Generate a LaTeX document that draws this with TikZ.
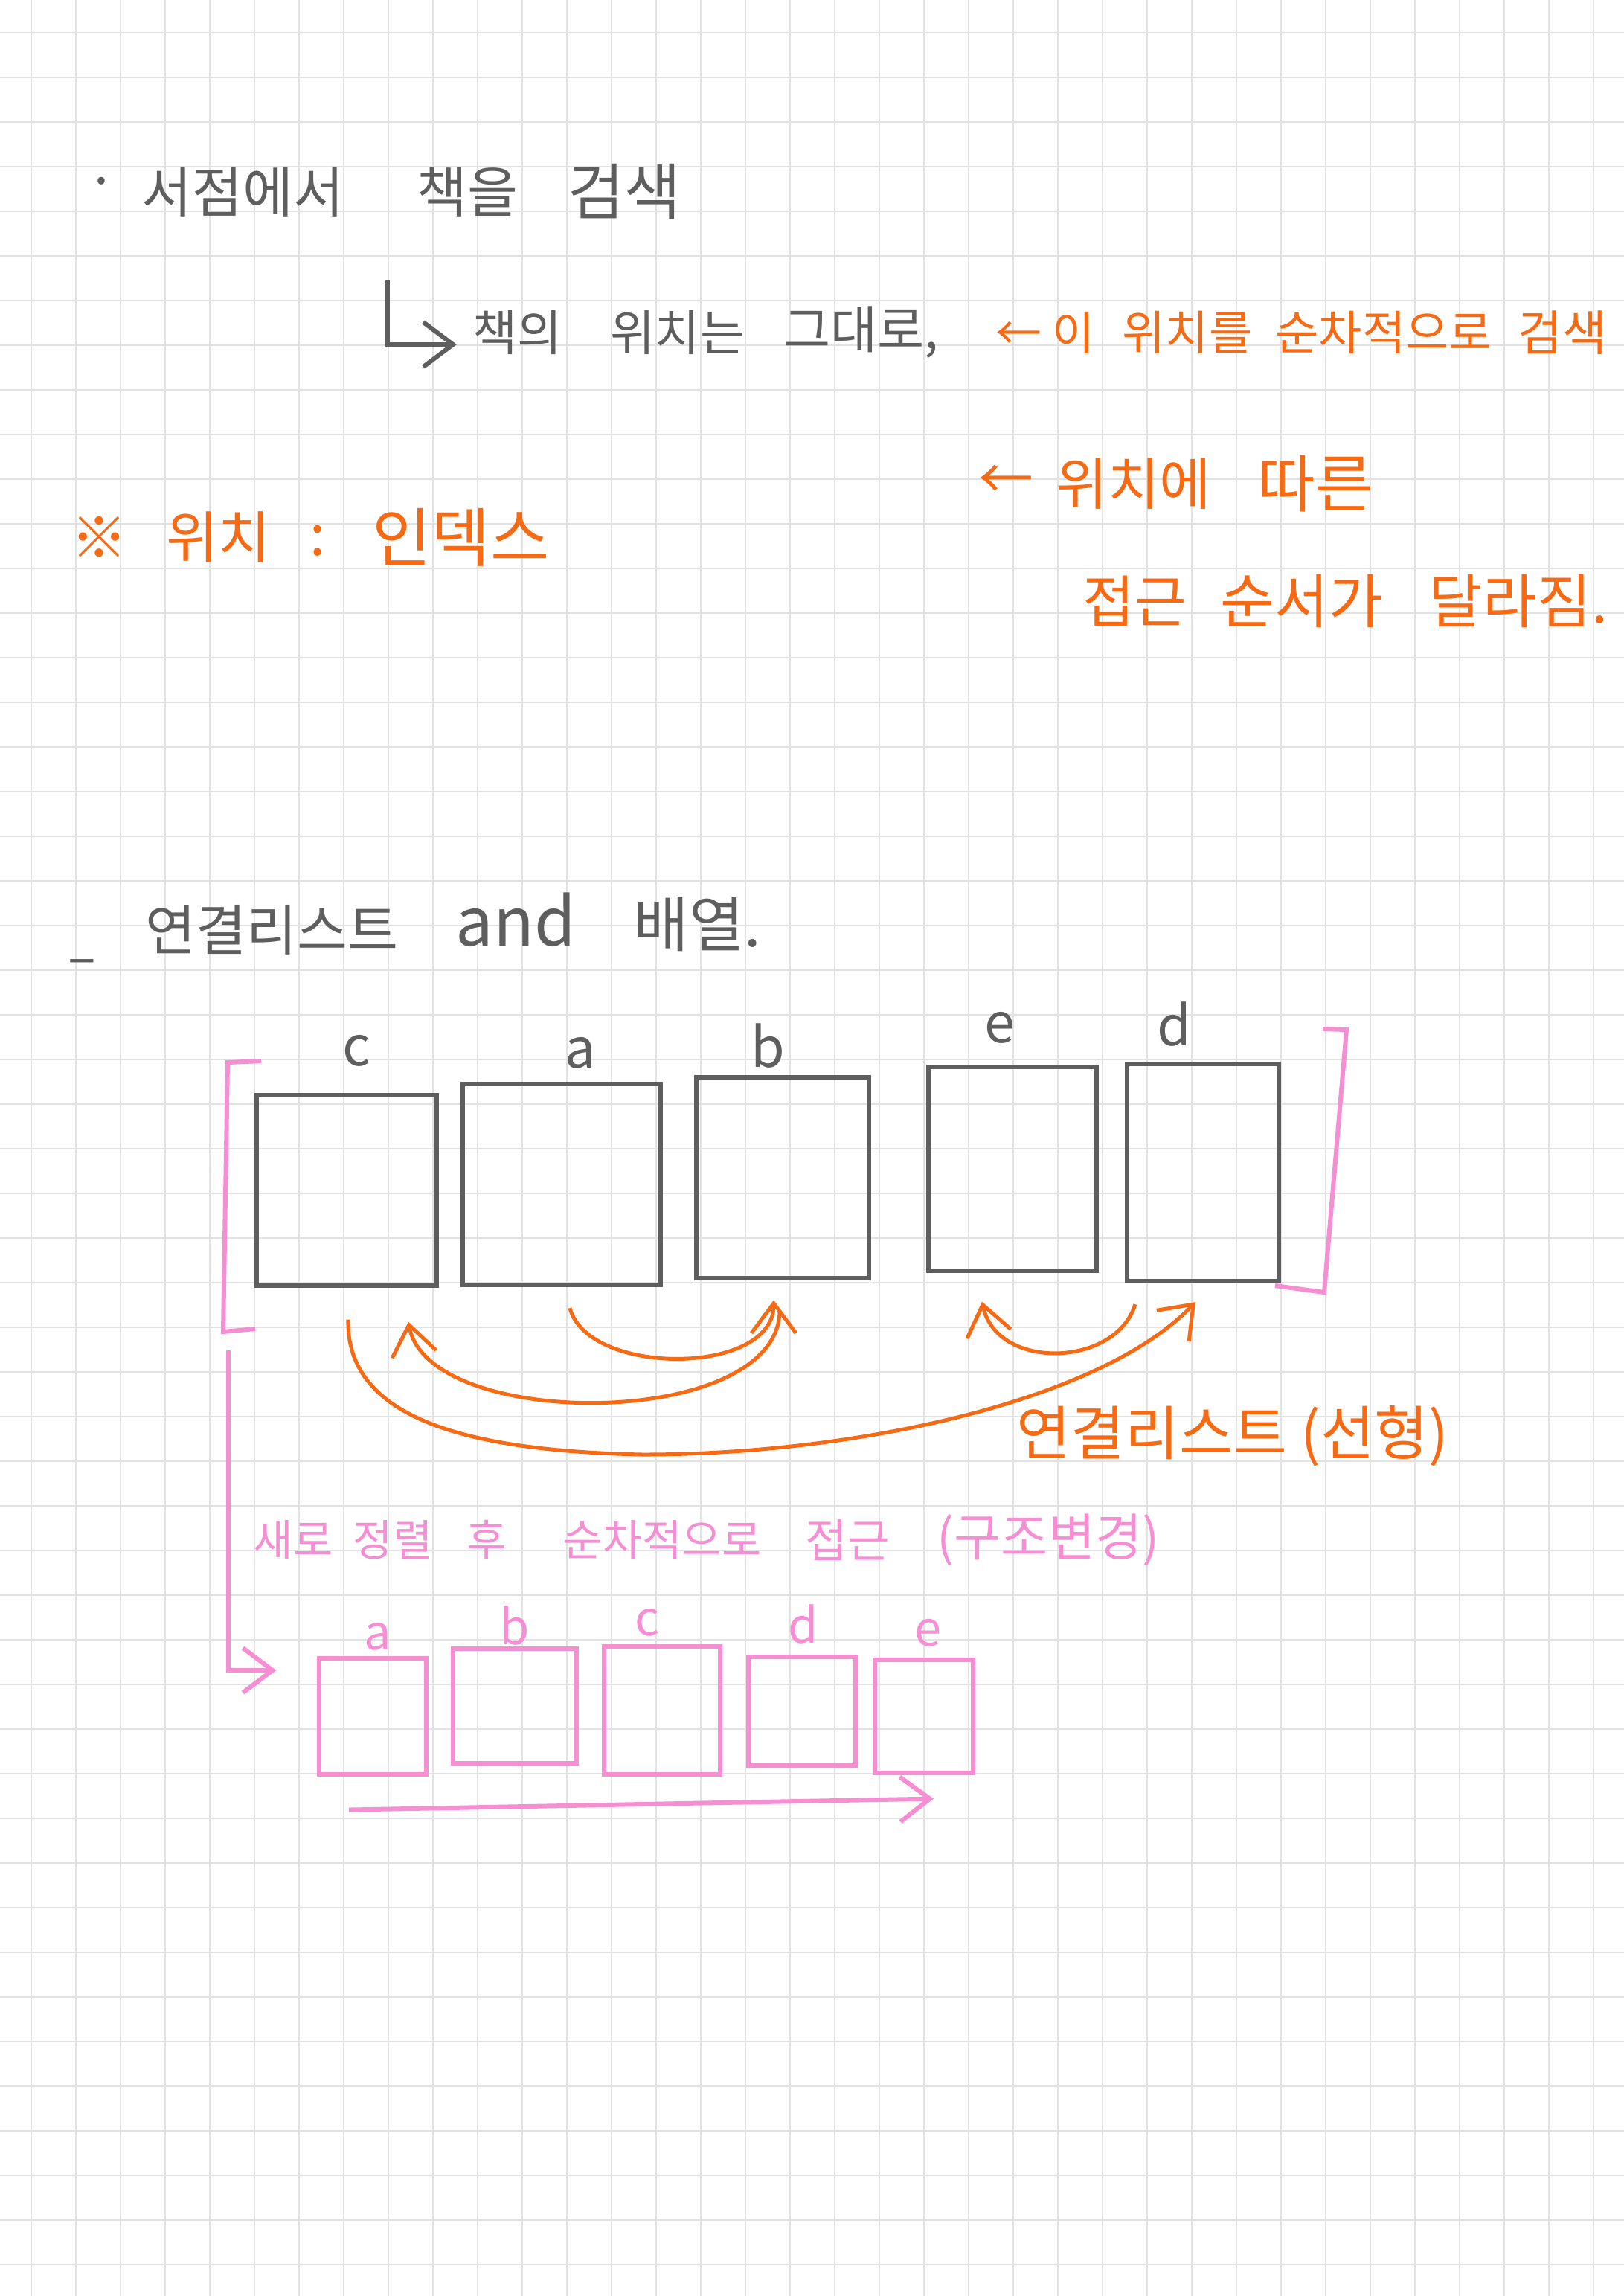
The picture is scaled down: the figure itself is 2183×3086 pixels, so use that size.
\documentclass[tikz,border=0pt]{standalone}
\usepackage{fontspec}
\setmainfont{Noto Sans CJK KR}
\usepackage{tikz}
\usetikzlibrary{positioning, arrows.meta}
\definecolor{pencil}{RGB}{94,94,94}
\definecolor{marker}{RGB}{246,106,20}
\definecolor{pinkpen}{RGB}{246,142,212}
\definecolor{gridgray}{RGB}{226,226,226}
\newcommand{\penfont}[1]{\fontsize{#1}{#1}\selectfont}
\tikzset{
x=0.01cm, y=-0.01cm, % one unit is one pixel of the page, y runs downwards
>={Straight Barb[length=4mm,width=6mm]}, % open hand-drawn arrow heads
line cap=round, line join=round,
gridline/.style={gridgray, line width=0.25mm}, % the squares of the paper
pen/.style={inner sep=0pt, anchor=west, text=pencil, font=\penfont{#1}}, % gray handwriting
ora/.style={inner sep=0pt, anchor=west, text=marker, font=\penfont{#1}}, % orange notes
pnk/.style={inner sep=0pt, anchor=west, text=pinkpen, font=\penfont{#1}}, % pink notes
cell/.style={draw=pencil, line width=0.6mm, inner sep=0pt}, % one slot of the list
pcell/.style={draw=pinkpen, line width=0.6mm, inner sep=0pt}, % one slot after sorting
penline/.style={pencil, line width=0.6mm},
link/.style={->, marker, line width=0.5mm},
pinkline/.style={pinkpen, line width=0.6mm},
plink/.style={->, pinkpen, line width=0.6mm},
}
\begin{document}
\begin{tikzpicture}
    \useasboundingbox (0,0) rectangle (2183,3086);
    \fill[white] (0,0) rectangle (2183,3086);
    \foreach \gx in {42,102,...,2182} \draw[gridline] (\gx,0) -- (\gx,3086);
    \foreach \gy in {44,104,...,3086} \draw[gridline] (0,\gy) -- (2183,\gy);

    % bookstore note
    \node[pen=20.5pt, anchor=center] (dot) at (137,254) {·};
    \node[pen=21pt] (w1) at (190,258) {서점에서};
    \node[pen=21pt] (w2) at (560,258) {책을};
    \node[pen=23.5pt] (w3) at (763,258) {검색};

    \node[pen=18.6pt] (w4) at (635,447) {책의};
    \node[pen=18.6pt] (w5) at (820,447) {위치는};
    \node[pen=19.5pt] (w6) at (1053,447) {그대로,};
    \coordinate (hook) at (521,377);
    \draw[penline, ->] (hook) |- ([shift={(-21,16)}]w4.west);

    \node[ora=17.6pt] (o1) at (1338,447) {← 이};
    \node[ora=18pt] (o2) at (1508,447) {위치를};
    \node[ora=18pt] (o3) at (1714,447) {순차적으로};
    \node[ora=18.5pt] (o4) at (2040,447) {검색};

    \node[ora=21.6pt] (o5) at (95,722) {※};
    \node[ora=21.6pt] (o6) at (223,722) {위치};
    \node[ora=21.6pt, anchor=center] (o7) at (427,727) {:};
    \node[ora=24.5pt] (o8) at (500,722) {인덱스};

    \node[ora=21pt] (o9) at (1315,648) {←};
    \node[ora=21.5pt] (o10) at (1419,650) {위치에};
    \node[ora=24pt] (o11) at (1690,650) {따른};
    \node[ora=21.5pt] (o12) at (1455,808) {접근};
    \node[ora=22.5pt] (o13) at (1640,808) {순서가};
    \node[ora=22.5pt] (o14) at (1920,808) {달라짐.};

    % linked list and array
    \node[pen=20pt, anchor=center] (dash) at (110,1300) {–};
    \node[pen=21pt] (w7) at (195,1250) {연결리스트};
    \node[pen=25.6pt] (w8) at (612,1236) {and};
    \node[pen=23pt] (w9) at (851,1242) {배열.};

    \node[cell, minimum width=24.2mm, minimum height=25.5mm] (bc) at (466,1600) {};
    \node[cell, minimum width=26.6mm, minimum height=27mm] (ba) at (755,1592) {};
    \node[cell, minimum width=23.2mm, minimum height=26.9mm] (bb) at (1052,1583) {};
    \node[cell, minimum width=22.5mm, minimum height=27.3mm] (be) at (1361,1571) {};
    \node[cell, minimum width=20.4mm, minimum height=29.2mm] (bd) at (1617,1576) {};

    \node[pen=21pt, above=3.5mm of bc, xshift=1.3mm] (lc) {c};
    \node[pen=21pt, above=1.7mm of ba, xshift=2.5mm] (la) {a};
    \node[pen=21pt, above=0.9mm of bb, xshift=-2mm] (lb) {b};
    \node[pen=21pt, above=2.8mm of be, xshift=-1.7mm] (le) {e};
    \node[pen=21pt, above=2mm of bd, xshift=-3.9mm] (ld) {d};

    \draw[pinkline] (351,1426) -- (306,1428) -- (300,1790) -- (343,1786);
    \draw[pinkline] (1778,1383) -- (1810,1384) -- (1780,1737) -- (1714,1728);

    \draw[link] ([shift={(11,28)}]ba.south) .. controls +(24,92) and +(0,102) .. ([shift={(-12,27)}]bb.south);
    \draw[link] ([shift={(-4,42)}]bb.south) .. controls +(-3,160) and +(26,147) .. ([shift={(83,46)}]bc.south);
    \draw[link] ([shift={(2,43)}]bc.south) .. controls +(-3,130) and +(-244,-5) .. (864,1955)
        .. controls +(286,0) and +(-127,133) .. ([shift={(-10,25)}]bd.south);
    \draw[link] ([shift={(-91,28)}]bd.south) .. controls +(-26,85) and +(20,93) .. ([shift={(-41,39)}]be.south);

    \node[ora=22.5pt] (o15) at (1366,1930) {연결리스트 (선형)};

    % sorted again
    \node[pnk=16.5pt] (p1) at (340,2070) {새로};
    \node[pnk=16.5pt] (p2) at (474,2070) {정렬};
    \node[pnk=16.5pt] (p3) at (627,2070) {후};
    \node[pnk=16.5pt] (p4) at (756,2070) {순차적으로};
    \node[pnk=17.5pt] (p5) at (1082,2070) {접근};
    \node[pnk=19.5pt] (p6) at (1259,2070) {(구조변경)};

    \node[pcell, minimum width=14.3mm, minimum height=15.5mm] (sa) at (501,2307) {};
    \node[pcell, minimum width=16.5mm, minimum height=15.3mm] (sb) at (692,2293) {};
    \node[pcell, minimum width=15.5mm, minimum height=17.2mm] (sc) at (890,2299) {};
    \node[pcell, minimum width=14.4mm, minimum height=14.6mm] (sd) at (1078,2300) {};
    \node[pcell, minimum width=13.1mm, minimum height=15.1mm] (se) at (1242,2307) {};

    \node[pnk=18.5pt, above=0.75mm of sa, xshift=0.7mm] (qa) {a};
    \node[pnk=18.5pt, above=0.15mm of sb] (qb) {b};
    \node[pnk=18.5pt, above=1mm of sc, xshift=-2mm] (qc) {c};
    \node[pnk=18.5pt, above=1.4mm of sd, xshift=0.2mm] (qd) {d};
    \node[pnk=18.5pt, above=1.45mm of se, xshift=0.6mm] (qe) {e};

    \coordinate (brk) at (307,1815);
    \draw[plink] (brk) |- ([shift={(-55,-62)}]sa.west);
    \draw[plink] ([shift={(-32,45)}]sa.south) -- ([shift={(13,32)}]se.south);
\end{tikzpicture}
\end{document}
